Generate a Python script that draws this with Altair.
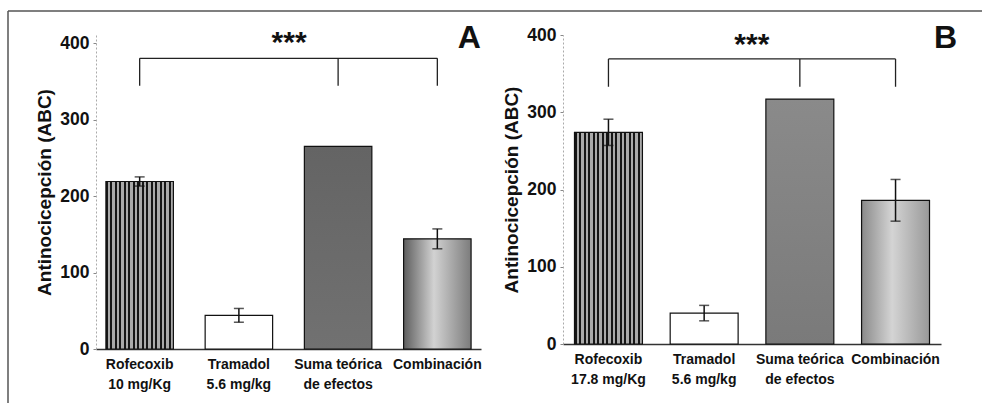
import altair as alt
import pandas as pd

# Panel A: rofecoxib 10 mg/Kg
cats_a = ["Rofecoxib\n10 mg/Kg", "Tramadol\n5.6 mg/kg", "Suma teórica\nde efectos", "Combinación"]
vals_a = [219, 44, 265, 144]
errs_a = [6, 9, 0, 13]

# Panel B: rofecoxib 17.8 mg/Kg
cats_b = ["Rofecoxib\n17.8 mg/Kg", "Tramadol\n5.6 mg/kg", "Suma teórica\nde efectos", "Combinación"]
vals_b = [274, 40, 317, 186]
errs_b = [17, 10, 0, 27]

# significance bracket (bottom, top) and "***" height per panel
bracket_a = [344, 380]
bracket_b = [333, 369]
stars_a = 400
stars_b = 387
letter_a = 406
letter_b = 396

FONT = "Liberation Sans"
Y_TITLE = "Antinocicepción (ABC)"


def stripes(n=15, dark="#161616", light="#aaaaaa"):
    stops = []
    for i in range(n):
        a, b, c = i / n, (i + 0.45) / n, (i + 1) / n
        stops += [
            alt.GradientStop(offset=a, color=dark),
            alt.GradientStop(offset=b, color=dark),
            alt.GradientStop(offset=b, color=light),
            alt.GradientStop(offset=min(c, 1.0), color=light),
        ]
    return alt.Gradient(gradient="linear", stops=stops, x1=0, x2=1, y1=0, y2=0)


def flat_gray(top, bottom):
    return alt.Gradient(
        gradient="linear",
        stops=[alt.GradientStop(offset=0, color=top), alt.GradientStop(offset=1, color=bottom)],
        x1=0, x2=0, y1=0, y2=1,
    )


def sheen(edge_l, center, edge_r):
    return alt.Gradient(
        gradient="linear",
        stops=[
            alt.GradientStop(offset=0, color=edge_l),
            alt.GradientStop(offset=0.45, color=center),
            alt.GradientStop(offset=1, color=edge_r),
        ],
        x1=0, x2=1, y1=0, y2=0,
    )


def panel(cats, vals, errs, bracket, star_y, letter, letter_y, ymax, width, height,
          pad_inner, pad_outer, letter_dx, star_dx, suma_fill, comb_fill, frame=False):
    df = pd.DataFrame({"cat": cats, "val": vals, "err": errs, "orden": list(range(len(cats)))})
    x_scale = alt.Scale(domain=cats, paddingInner=pad_inner, paddingOuter=pad_outer)
    y_scale = alt.Scale(domain=[0, ymax], nice=False, zero=True)

    x_enc = alt.X(
        "cat:N", scale=x_scale, sort=None, title=None,
        axis=alt.Axis(
            labelExpr="split(datum.label, '\\n')", labelAngle=0, labelFont=FONT,
            labelFontSize=14, labelFontWeight="bold", labelColor="#111",
            labelLineHeight=20, labelPadding=8, ticks=False,
            domainColor="#333", domainWidth=1.5,
        ),
    )
    y_enc = alt.Y(
        "val:Q", scale=y_scale, title=Y_TITLE,
        axis=alt.Axis(
            values=[0, 100, 200, 300, 400], labelFont=FONT, labelFontSize=17.5,
            labelFontWeight="bold", labelColor="#111", labelPadding=4,
            tickSize=3, tickColor="#888", domainColor="#aaa", domainDash=[2, 2],
            titleFont=FONT, titleFontSize=19, titleFontWeight="bold", titleColor="#111",
            titlePadding=5,
        ),
    )

    base = alt.Chart(df)
    fills = [stripes(), "white", suma_fill, comb_fill]
    bars = [
        base.transform_filter(f"datum.orden == {i}")
        .mark_bar(fill=f, stroke="#111", strokeWidth=1.2, opacity=1)
        .encode(x=x_enc, y=y_enc)
        for i, f in enumerate(fills)
    ]

    eb = base.transform_filter("datum.err > 0").transform_calculate(
        lo="datum.val - datum.err", hi="datum.val + datum.err"
    )
    err_rule = eb.mark_rule(color="#111", strokeWidth=1.5).encode(
        x=alt.X("cat:N", scale=x_scale), y=alt.Y("lo:Q", scale=y_scale), y2="hi:Q"
    )
    cap_lo = eb.mark_tick(color="#111", size=10, thickness=1.5).encode(
        x=alt.X("cat:N", scale=x_scale), y=alt.Y("lo:Q", scale=y_scale)
    )
    cap_hi = eb.mark_tick(color="#111", size=10, thickness=1.5).encode(
        x=alt.X("cat:N", scale=x_scale), y=alt.Y("hi:Q", scale=y_scale)
    )

    # significance bracket over Rofecoxib, Suma teórica and Combinación
    top_df = pd.DataFrame({"cat": [cats[0]], "cat2": [cats[3]], "y": [bracket[1]]})
    legs_df = pd.DataFrame({"cat": [cats[0], cats[2], cats[3]],
                            "y": [bracket[0]] * 3, "y2": [bracket[1]] * 3})
    br_top = alt.Chart(top_df).mark_rule(color="#222", strokeWidth=1.3).encode(
        x=alt.X("cat:N", scale=x_scale), x2="cat2:N", y=alt.Y("y:Q", scale=y_scale)
    )
    br_legs = alt.Chart(legs_df).mark_rule(color="#222", strokeWidth=1.3).encode(
        x=alt.X("cat:N", scale=x_scale), y=alt.Y("y:Q", scale=y_scale), y2="y2:Q"
    )

    stars = alt.Chart(pd.DataFrame({"cat": [cats[2]], "y": [star_y], "t": ["***"]})).mark_text(
        font=FONT, fontSize=30, fontWeight="bold", color="#111", dx=star_dx, baseline="middle"
    ).encode(x=alt.X("cat:N", scale=x_scale), y=alt.Y("y:Q", scale=y_scale), text="t:N")

    tag = alt.Chart(pd.DataFrame({"cat": [cats[3]], "y": [letter_y], "t": [letter]})).mark_text(
        font=FONT, fontSize=32, fontWeight="bold", color="#111", dx=letter_dx, baseline="middle"
    ).encode(x=alt.X("cat:N", scale=x_scale), y=alt.Y("y:Q", scale=y_scale), text="t:N")

    layers = bars + [err_rule, cap_lo, cap_hi, br_top, br_legs, stars, tag]

    if frame:
        one = pd.DataFrame({"k": [0]})
        left_edge = alt.Chart(one).mark_rule(color="#555", strokeWidth=1.5).encode(
            x=alt.value(-88), y=alt.value(-24), y2=alt.value(368)
        )
        top_edge = alt.Chart(one).mark_rule(color="#555", strokeWidth=1.5).encode(
            x=alt.value(-88), x2=alt.value(886), y=alt.value(-24)
        )
        layers += [left_edge, top_edge]

    return alt.layer(*layers).properties(width=width, height=height)


panel_a = panel(cats_a, vals_a, errs_a, bracket_a, stars_a, "A", letter_a,
                ymax=410.5, width=385, height=314, pad_inner=0.32, pad_outer=0.1,
                letter_dx=32, star_dx=-49,
                suma_fill=flat_gray("#646464", "#717171"),
                comb_fill=sheen("#5e5e5e", "#d2d2d2", "#7c7c7c"), frame=True)

panel_b = panel(cats_b, vals_b, errs_b, bracket_b, stars_b, "B", letter_b,
                ymax=400, width=378, height=309, pad_inner=0.29, pad_outer=0.12,
                letter_dx=50, star_dx=-48,
                suma_fill=flat_gray("#8a8a8a", "#7a7a7a"),
                comb_fill=sheen("#8a8a8a", "#d4d4d4", "#999999"))

chart = (
    alt.hconcat(panel_a, panel_b, spacing=82, bounds="flush")
    .properties(padding={"left": 7, "top": 10, "right": 0, "bottom": 0}, background="white")
    .configure_view(stroke=None)
    .configure_axis(grid=False)
)

chart.save("out.html", embed_options={"renderer": "svg", "actions": False})
